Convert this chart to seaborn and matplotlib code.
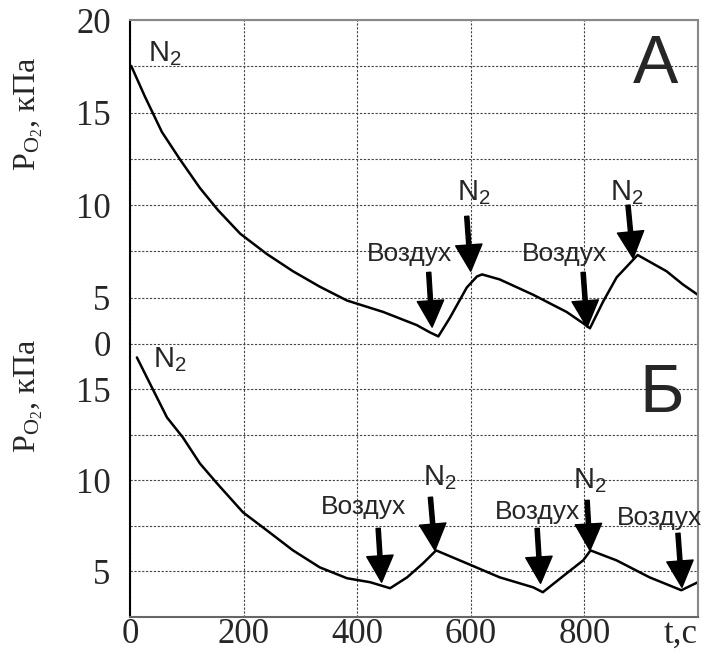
import seaborn as sns
import pandas as pd
import numpy as np
import matplotlib.pyplot as plt

# panel A curve (time, s ; P_O2, kPa)
t_a = [2, 26, 56, 88, 123, 155, 194, 241, 287, 334, 382, 446, 505, 528, 543, 563, 593, 611, 620,
       651, 710, 769, 798, 810, 833, 857, 894, 945, 974, 1000]
p_a = [17.53, 15.88, 13.96, 12.47, 10.93, 9.73, 8.46, 7.36, 6.43, 5.6, 4.85, 4.23, 3.52, 3.13, 2.91,
       3.9, 5.55, 6.15, 6.26, 5.99, 5.16, 4.23, 3.62, 3.35, 4.78, 6.1, 7.31, 6.43, 5.71, 5.16]

# panel Б curve
t_b = [12, 41, 65, 93, 123, 153, 199, 241, 287, 334, 382, 423, 458, 488, 516, 539, 593, 651, 710,
       727, 769, 798, 811, 857, 915, 971, 1000]
p_b = [16.76, 14.95, 13.46, 12.36, 10.93, 9.84, 8.24, 7.25, 6.15, 5.22, 4.62, 4.4, 4.07, 4.67, 5.44,
       6.15, 5.44, 4.67, 4.12, 3.85, 4.89, 5.6, 6.15, 5.6, 4.67, 3.96, 4.4]

# gas switch marks: label, label x, label y, arrow start (x, y), arrow tip (x, y)
marks_a = [
    ("Воздух", 493, 7.36, (526, 6.37), (532, 3.41)),
    ("N$_2$", 576, 10.27, (593, 9.4), (600, 6.43)),
    ("Воздух", 766, 7.36, (798, 6.37), (805, 3.41)),
    ("N$_2$", 845, 10.27, (877, 10.0), (886, 7.14)),
]
marks_b = [
    ("Воздух", 412, 8.52, (437, 7.36), (443, 4.4)),
    ("N$_2$", 516, 9.73, (529, 9.07), (537, 6.15)),
    ("Воздух", 717, 8.24, (717, 7.36), (723, 4.34)),
    ("N$_2$", 780, 9.56, (805, 8.9), (810, 6.15)),
    ("Воздух", 933, 7.91, (965, 7.09), (972, 4.12)),
]

x_ticks = [0, 200, 400, 600, 800, 1000]
x_labels = ["0", "200", "400", "600", "800", "t,c"]

sns.set_style("white")
plt.rcParams['font.family'] = ['Liberation Serif', 'DejaVu Serif']
plt.rcParams['mathtext.default'] = 'regular'

fig, (ax1, ax2) = plt.subplots(2, 1, figsize=(7.07, 6.52), dpi=100,
                               gridspec_kw={'height_ratios': [324, 273], 'hspace': 0})
fig.subplots_adjust(left=0.184, right=0.987, top=0.969, bottom=0.054)

df_a = pd.DataFrame({"t": t_a, "p": p_a})
df_b = pd.DataFrame({"t": t_b, "p": p_b})
sns.lineplot(df_a, x="t", y="p", ax=ax1, color="black", lw=1.8)
sns.lineplot(df_b, x="t", y="p", ax=ax2, color="black", lw=1.8)

ax1.set_ylim(2.5, 20)
ax2.set_ylim(2.5, 17.5)
ax1.set_yticks([2.5, 5, 10, 15, 20], ["0", "5", "10", "15", "20"])
ax2.set_yticks([5, 10, 15], ["5", "10", "15"])
ax1.set_yticks(np.arange(2.5, 20, 2.5), minor=True)
ax2.set_yticks(np.arange(2.5, 17.6, 2.5), minor=True)

for ax in (ax1, ax2):
    ax.set_xlim(0, 1000)
    ax.set_xticks(x_ticks, x_labels)
    ax.set_xlabel("")
    ax.set_ylabel(r"P$_{O_2}$, кПа", fontsize=23)
    ax.tick_params(length=0, labelsize=25, which="both")
    ax.tick_params(axis="y", pad=14)
    ax.tick_params(axis="x", pad=1)
    ax.grid(True, which="both", color="#444444", linestyle=(0, (2, 1.5)), lw=0.8)
    for s in ax.spines.values():
        s.set_color("#888888")
        s.set_linewidth(1.5)
    ax.spines["left"].set_color("black")

ax1.tick_params(axis="x", labelbottom=False)
ax1.spines["bottom"].set_visible(False)
ax2.spines["top"].set_visible(False)
ax2.spines["bottom"].set_color("#666666")
ax2.get_xticklabels()[-1].set_ha("right")
ax1.yaxis.set_label_coords(-0.15, 0.71)
ax2.yaxis.set_label_coords(-0.15, 0.81)

sans = ['Liberation Sans', 'DejaVu Sans']
for ax, marks in ((ax1, marks_a), (ax2, marks_b)):
    for label, tx, ty, start, tip in marks:
        if label.startswith("N"):
            ax.text(tx, ty, label, fontsize=21, family=sans, ha="left", va="baseline")
        else:
            ax.text(tx, ty, label, fontsize=19, family=sans, ha="center", va="center")
        ax.annotate("", xy=tip, xytext=start,
                    arrowprops=dict(facecolor="black", edgecolor="black", width=3,
                                    headwidth=19, headlength=19, shrink=0))

ax1.text(32, 17.8, "N$_2$", fontsize=21, family=sans, va="baseline")
ax2.text(40, 16.2, "N$_2$", fontsize=21, family=sans, va="baseline")
ax1.text(926, 16.59, "А", fontsize=49, family=sans, ha="center", va="baseline")
ax2.text(937, 13.74, "Б", fontsize=49, family=sans, ha="center", va="baseline")

plt.savefig("out.png", dpi=100)
